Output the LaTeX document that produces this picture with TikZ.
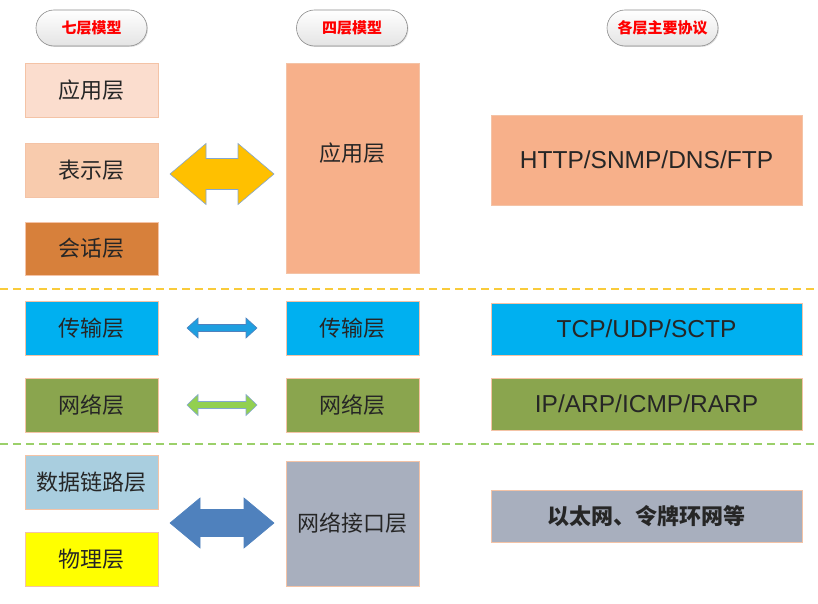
\documentclass[tikz,border=0pt]{standalone}
\usepackage{fontspec}
\setsansfont{Liberation Sans}
\newfontfamily\cnfont{Noto Sans CJK SC}
\usetikzlibrary{calc,shadows}
\definecolor{boxline}{HTML}{F4C3A6}
\definecolor{txtgray}{HTML}{262626}
\definecolor{pillline}{HTML}{8C8C8C}
\definecolor{pillgray}{HTML}{E4E4E4}
\definecolor{appseven}{HTML}{FBDDCE}
\definecolor{presseven}{HTML}{F8CBAD}
\definecolor{sessseven}{HTML}{D7803B}
\definecolor{appfour}{HTML}{F7B08A}
\definecolor{transblue}{HTML}{00B0F0}
\definecolor{netgreen}{HTML}{8AA54E}
\definecolor{linkblue}{HTML}{A9CEDF}
\definecolor{physyellow}{HTML}{FFFF00}
\definecolor{ifacegray}{HTML}{A8AFBE}
\definecolor{arrowyellow}{HTML}{FFC000}
\definecolor{arrowblue}{HTML}{1E9FE0}
\definecolor{arrowgreen}{HTML}{92D050}
\definecolor{arrowsteel}{HTML}{4F81BD}
\definecolor{sepyellow}{HTML}{F9CB3A}
\definecolor{sepgreen}{HTML}{9BD06A}
\tikzset{
  layertext/.style={text=txtgray, font=\cnfont\fontsize{22}{22}\selectfont},
  layerbox/.style={layertext, draw=boxline, line width=0.6pt, inner sep=0pt,
    minimum width=133pt, minimum height=54pt},
  protobox/.style={layerbox, minimum width=311pt, minimum height=52pt,
    font=\sffamily\fontsize{24.5}{24.5}\selectfont},
  pillbox/.style={draw=pillline, line width=0.6pt, rounded corners=18pt,
    minimum width=111pt, minimum height=36pt, inner sep=0pt,
    top color=white, bottom color=pillgray,
    drop shadow={shadow xshift=1pt, shadow yshift=-1pt, opacity=0.25},
    text=red, font=\cnfont\bfseries\fontsize{15}{15}\selectfont},
  blockarrow/.style={line width=0.6pt, line join=miter},
  sepline/.style={line width=2pt, dash pattern=on 8pt off 5pt}
}
\newcommand{\dblblock}[6]{%
  \draw[blockarrow,#1] (#2) ++(-#3,0) -- ++(#4,-#5) -- ++(0,{#5-#6})
    -- ++({2*#3-2*#4},0) -- ++(0,{#6-#5}) -- ++(#4,#5) -- ++(-#4,#5)
    -- ++(0,{#6-#5}) -- ++({2*#4-2*#3},0) -- ++(0,{#5-#6}) -- cycle;}
\begin{document}
\begin{tikzpicture}[x=1pt,y=-1pt]
\useasboundingbox (0,0) rectangle (818,604);

\node[pillbox] (headseven) at (91.5,28) {七层模型};
\node[pillbox] (headfour) at (352,28) {四层模型};
\node[pillbox] (headproto) at (662.5,28) {各层主要协议};

\node[layerbox, fill=appseven] (appseven) at (91.5,90) {应用层};
\node[layerbox, fill=presseven] (presseven) at (91.5,170) {表示层};
\node[layerbox, fill=sessseven, minimum height=53pt] (sessseven) at (91.5,248.5) {会话层};
\node[layerbox, fill=transblue] (transseven) at (91.5,328) {传输层};
\node[layerbox, fill=netgreen] (netseven) at (91.5,405) {网络层};
\node[layerbox, fill=linkblue] (linkseven) at (91.5,482) {数据链路层};
\node[layerbox, fill=physyellow] (physseven) at (91.5,559) {物理层};

\node[layerbox, fill=appfour, minimum height=210pt,
  label={[layertext, yshift=15pt]center:应用层}] (appfour) at (352.5,168) {};
\node[layerbox, fill=transblue] (transfour) at (352.5,328) {传输层};
\node[layerbox, fill=netgreen] (netfour) at (352.5,405) {网络层};
\node[layerbox, fill=ifacegray, minimum height=125pt] (ifacefour) at (352.5,523.5) {网络接口层};

\node[protobox, fill=appfour, minimum height=90pt] (httpproto) at (646.5,160) {HTTP/SNMP/DNS/FTP};
\node[protobox, fill=transblue] (tcpproto) at (646.5,329) {TCP/UDP/SCTP};
\node[protobox, fill=netgreen] (ipproto) at (646.5,404) {IP/ARP/ICMP/RARP};
\node[protobox, fill=ifacegray, font=\cnfont\bfseries\fontsize{22}{22}\selectfont] (ethproto) at (646.5,516) {以太网、令牌环网等};

\coordinate (apparrow) at (222,174);
\coordinate (transarrow) at (222,328);
\coordinate (netarrow) at (222,405);
\coordinate (ifacearrow) at (222,523);
\dblblock{fill=arrowyellow, draw=arrowsteel!70}{apparrow}{52}{36}{30.5}{15.5}
\dblblock{fill=arrowblue, draw=arrowsteel}{transarrow}{35}{11}{10}{3.5}
\dblblock{fill=arrowgreen, draw=arrowsteel!70}{netarrow}{35}{11}{10.5}{3.5}
\dblblock{fill=arrowsteel, draw=arrowsteel}{ifacearrow}{52}{30}{25}{13.5}

\coordinate (sepaleft) at (0,289);
\coordinate (separight) at (818,289);
\coordinate (sepbleft) at (0,444);
\coordinate (sepbright) at (818,444);
\draw[sepline, color=sepyellow] (sepaleft) -- (separight);
\draw[sepline, color=sepgreen] (sepbleft) -- (sepbright);
\end{tikzpicture}
\end{document}
